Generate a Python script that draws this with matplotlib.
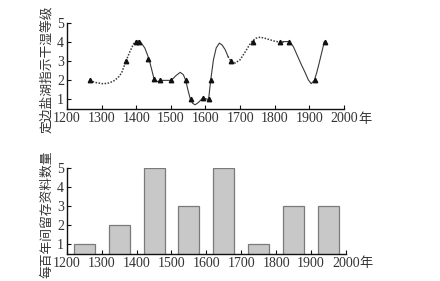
"""Dry/wet grade of Dingbian salt lake and number of records per century."""

import numpy as np
import matplotlib

matplotlib.use("Agg")
import matplotlib.pyplot as plt

# ------------------------------------------------------------------
# Data
# ------------------------------------------------------------------
marker_years = [1266, 1371, 1399, 1407, 1435, 1452, 1469, 1501, 1543, 1558,
                1592, 1609, 1617, 1674, 1736, 1816, 1842, 1916, 1944]
marker_grades = [2, 3, 4, 4, 3.1, 2.05, 2, 2, 2, 1.05,
                 1.07, 1.0, 2, 3, 4, 4, 4, 2, 4]

curve_years = [1266, 1285, 1305, 1320, 1334, 1348, 1358, 1370, 1382, 1392,
               1399, 1406, 1415, 1425, 1437, 1445, 1452, 1461, 1474, 1501,
               1515, 1527, 1536, 1543, 1550, 1556, 1563, 1570, 1580, 1592,
               1600, 1609, 1615, 1623, 1631, 1640, 1648, 1657, 1665, 1674,
               1686, 1700, 1715, 1727, 1734, 1745, 1758, 1772, 1787, 1800,
               1816, 1830, 1843, 1854, 1864, 1876, 1888, 1897, 1905, 1914,
               1921, 1928, 1936, 1943]
curve_grades = [1.99, 1.88, 1.82, 1.86, 1.95, 2.15, 2.39, 2.99, 3.51, 3.9,
                4.03, 4.07, 3.95, 3.69, 3.12, 2.55, 2.04, 1.94, 2.0, 2.0,
                2.25, 2.42, 2.3, 2.0, 1.45, 1.04, 0.8, 0.72, 0.85, 1.07,
                1.04, 1.0, 2.0, 3.08, 3.7, 3.95, 3.85, 3.6, 3.25, 2.99,
                2.91, 3.08, 3.5, 3.86, 4.03, 4.2, 4.26, 4.2, 4.12, 4.05,
                4.0, 4.03, 4.03, 3.75, 3.34, 2.85, 2.39, 2.02, 1.83, 1.99,
                2.4, 2.9, 3.5, 4.03]
dotted_spans = [(1266, 1399), (1674, 1816)]

century_centres = [1250, 1350, 1450, 1550, 1650, 1750, 1850, 1950]
record_counts = [1, 2, 5, 3, 5, 1, 3, 3]

year_ticks = [1200, 1300, 1400, 1500, 1600, 1700, 1800, 1900, 2000]
grade_ticks = [1, 2, 3, 4, 5]

top_ylabel = "定边盐湖指示干湿等级"
bottom_ylabel = "每百年间留存资料数量"
year_unit = "年"

# ------------------------------------------------------------------
# Styling
# ------------------------------------------------------------------
plt.rcParams["font.family"] = ["Liberation Serif", "Noto Sans CJK SC"]
TEXT = "#333333"
CJK = ["Noto Sans CJK SC", "DejaVu Sans"]


def style_axis(axis, ylabel):
    axis.set_xlim(1200, 2000)
    axis.set_ylim(0.5, 5)
    axis.spines["top"].set_visible(False)
    axis.spines["right"].set_visible(False)
    axis.spines["left"].set_bounds(0.5, 5)
    for side in ("left", "bottom"):
        axis.spines[side].set_linewidth(1.0)
        axis.spines[side].set_color("#111111")
    axis.set_xticks(year_ticks)
    axis.set_yticks(grade_ticks)
    axis.tick_params(direction="in", length=3, width=0.8, labelsize=10,
                     colors="#111111", labelcolor=TEXT, pad=2)
    axis.set_ylabel(ylabel, family=CJK, fontsize=9.2, color=TEXT)
    axis.yaxis.set_label_coords(-0.048, 0.46)
    axis.annotate(year_unit, xy=(2000, 0.5), xycoords="data",
                  xytext=(10, -2.5), textcoords="offset points",
                  ha="left", va="top", family=CJK, fontsize=9.5, color=TEXT)


figure = plt.figure(figsize=(4.4, 2.81), dpi=100)
top = figure.add_axes([0.152, 0.612, 0.630, 0.306])
bottom = figure.add_axes([0.152, 0.096, 0.634, 0.306])

# top: curve, dotted where the grade is inferred
years = np.array(curve_years)
grades = np.array(curve_grades)
dotted = np.zeros(len(years), dtype=bool)
for start, end in dotted_spans:
    dotted |= (years >= start) & (years <= end)

edges = np.flatnonzero(np.diff(dotted.astype(int))) + 1
bounds = [0, *edges, len(years)]
for lo, hi in zip(bounds[:-1], bounds[1:]):
    is_dotted = dotted[lo]
    a = lo - 1 if lo > 0 else lo
    b = hi + 1 if (is_dotted and hi < len(years)) else hi
    top.plot(years[a:b], grades[a:b], color="#3a3a3a",
             linewidth=1.1 if is_dotted else 0.8,
             linestyle=(0, (1, 1)) if is_dotted else "-")
top.plot(marker_years, marker_grades, linestyle="none", marker="^",
         markersize=3.2, color="#111111")
style_axis(top, top_ylabel)

# bottom: records per century
bottom.bar(century_centres, record_counts, width=60, bottom=0,
           color="#c8c8c8", edgecolor="#7a7a7a", linewidth=0.9)
style_axis(bottom, bottom_ylabel)

figure.savefig("out.png", dpi=100)
plt.close(figure)
